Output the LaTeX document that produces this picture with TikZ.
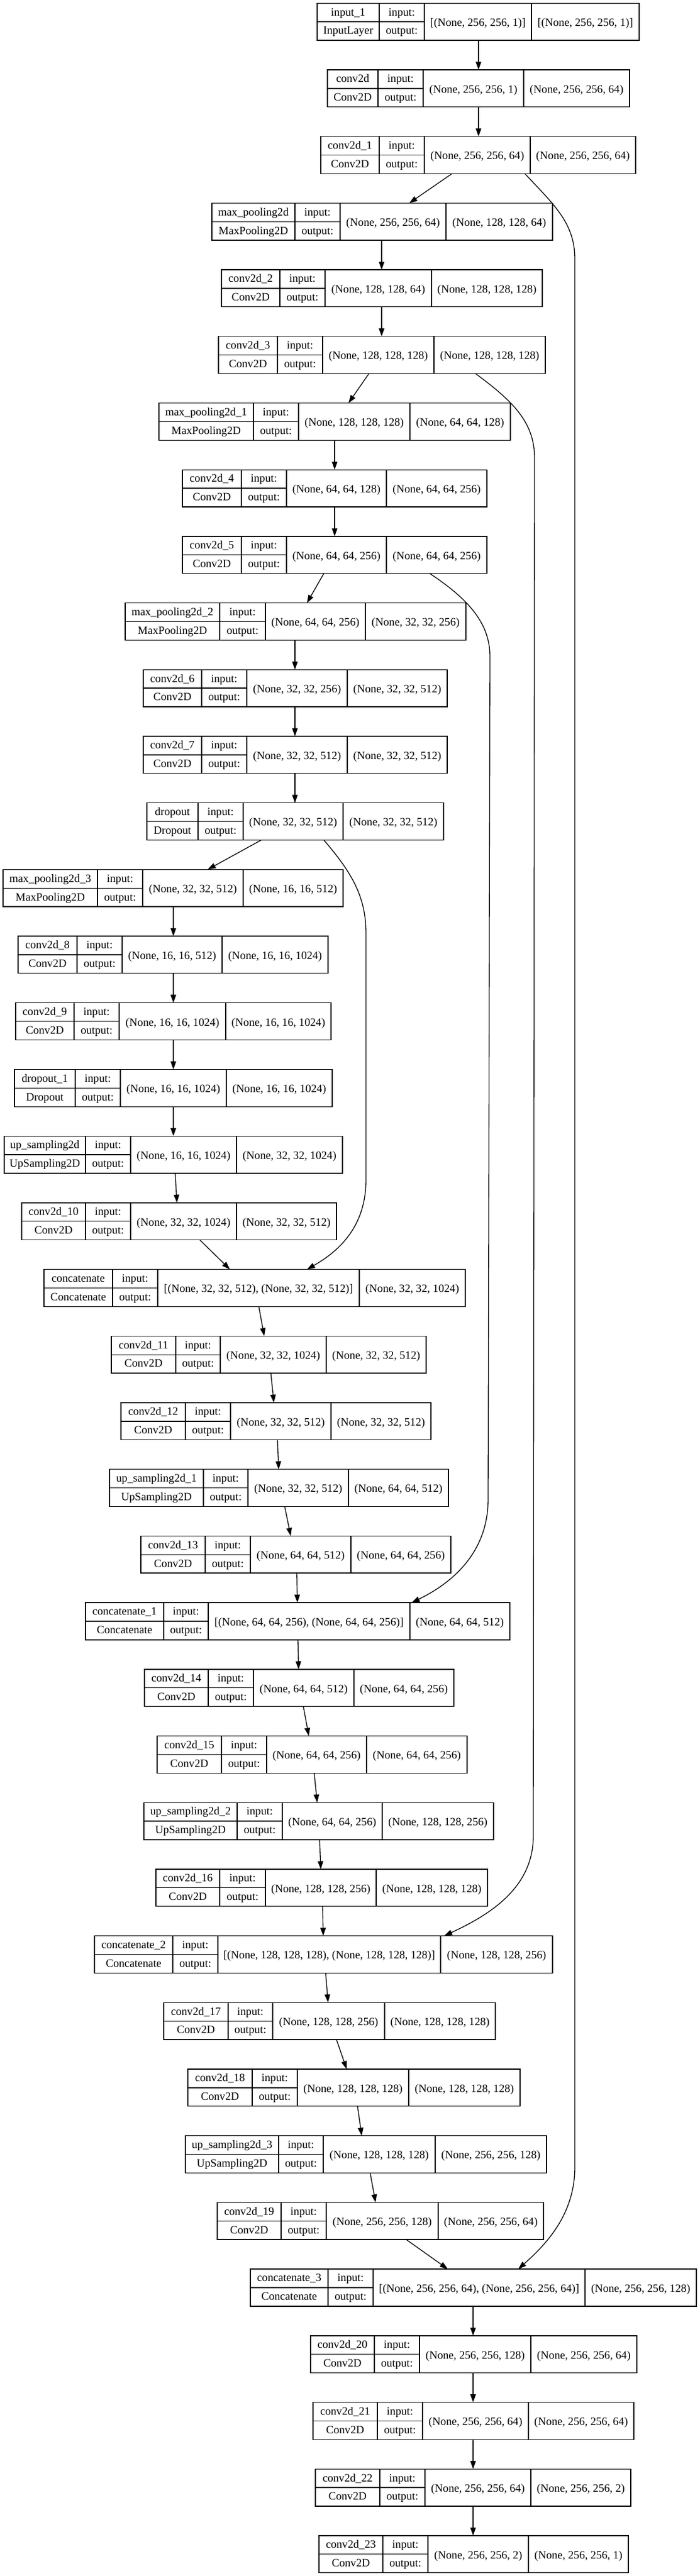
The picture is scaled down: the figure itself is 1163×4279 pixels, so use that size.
\documentclass[tikz,border=0pt]{standalone}
\usepackage{fontspec}
\setmainfont{Liberation Serif}
\usetikzlibrary{arrows.meta}

\def\kgetcols#1,#2,#3,#4,#5\relax{\def\kxA{#1}\def\kxB{#2}\def\kxC{#3}\def\kxD{#4}\def\kxE{#5}}
\newcommand{\kerasnode}[7]{%
  \kgetcols#3\relax
  \pgfmathsetmacro\kyt{5.3+#2*110.7}%
  \pgfmathsetmacro\kym{\kyt+30.85}%
  \pgfmathsetmacro\kyb{\kyt+61.7}%
  \pgfmathsetmacro\kyu{\kyt+15.425}%
  \pgfmathsetmacro\kyl{\kyt+46.275}%
  \pgfmathsetmacro\kw{(\kxE-\kxA)*0.75}%
  \node[kbox, minimum width=\kw pt] (#1) at ({(\kxA+\kxE)/2},\kym) {};
  \draw[kline] (\kxA,\kym) -- (\kxC,\kym)
    (\kxB,\kyt) -- (\kxB,\kyb) (\kxC,\kyt) -- (\kxC,\kyb) (\kxD,\kyt) -- (\kxD,\kyb);
  \node[ktext] (#1-name) at ({(\kxA+\kxB)/2},\kyu) {#4};
  \node[ktext] (#1-cls) at ({(\kxA+\kxB)/2},\kyl) {#5};
  \node[ktext] (#1-inlbl) at ({(\kxB+\kxC)/2},\kyu) {input:};
  \node[ktext] (#1-outlbl) at ({(\kxB+\kxC)/2},\kyl) {output:};
  \node[kshape] (#1-in) at ({(\kxC+\kxD)/2},\kym) {#6};
  \node[kshape] (#1-out) at ({(\kxD+\kxE)/2},\kym) {#7};
}

\begin{document}
\begin{tikzpicture}[x=0.75pt,y=-0.75pt,
    kbox/.style={draw, line width=1pt, inner sep=0pt, outer sep=0pt, minimum height=46.275pt},
    kline/.style={line width=1pt},
    ktext/.style={inner sep=0pt, font=\fontsize{14pt}{16pt}\selectfont, text height=11pt, text depth=3pt},
    kshape/.style={ktext, text height=13pt, text depth=2pt},
    flow/.style={line width=1pt, -{Triangle[length=10pt,width=6.8pt]}}]
    \fill[white] (0,0) rectangle (1163,4279);
    \useasboundingbox (0,0) rectangle (1163,4279);

    \kerasnode{input1}{0}{527,630,705,883,1062}{input\_1}{InputLayer}{[(None, 256, 256, 1)]}{[(None, 256, 256, 1)]}
    \kerasnode{conv0}{1}{544,628,703,870,1046}{conv2d}{Conv2D}{(None, 256, 256, 1)}{(None, 256, 256, 64)}
    \kerasnode{conv1}{2}{533,630,705,881,1056}{conv2d\_1}{Conv2D}{(None, 256, 256, 64)}{(None, 256, 256, 64)}
    \kerasnode{pool0}{3}{352,490,565,741,918}{max\_pooling2d}{MaxPooling2D}{(None, 256, 256, 64)}{(None, 128, 128, 64)}
    \kerasnode{conv2}{4}{368,465,540,717,901}{conv2d\_2}{Conv2D}{(None, 128, 128, 64)}{(None, 128, 128, 128)}
    \kerasnode{conv3}{5}{363,461,536,721,906}{conv2d\_3}{Conv2D}{(None, 128, 128, 128)}{(None, 128, 128, 128)}
    \kerasnode{pool1}{6}{264,421,496,681,848}{max\_pooling2d\_1}{MaxPooling2D}{(None, 128, 128, 128)}{(None, 64, 64, 128)}
    \kerasnode{conv4}{7}{303,401,476,642,809}{conv2d\_4}{Conv2D}{(None, 64, 64, 128)}{(None, 64, 64, 256)}
    \kerasnode{conv5}{8}{303,401,476,642,809}{conv2d\_5}{Conv2D}{(None, 64, 64, 256)}{(None, 64, 64, 256)}
    \kerasnode{pool2}{9}{208,365,441,607,774}{max\_pooling2d\_2}{MaxPooling2D}{(None, 64, 64, 256)}{(None, 32, 32, 256)}
    \kerasnode{conv6}{10}{238,335,410,577,743}{conv2d\_6}{Conv2D}{(None, 32, 32, 256)}{(None, 32, 32, 512)}
    \kerasnode{conv7}{11}{238,335,410,577,743}{conv2d\_7}{Conv2D}{(None, 32, 32, 512)}{(None, 32, 32, 512)}
    \kerasnode{drop0}{12}{244,329,404,570,737}{dropout}{Dropout}{(None, 32, 32, 512)}{(None, 32, 32, 512)}
    \kerasnode{pool3}{13}{5,162,237,404,570}{max\_pooling2d\_3}{MaxPooling2D}{(None, 32, 32, 512)}{(None, 16, 16, 512)}
    \kerasnode{conv8}{14}{30,128,203,369,545}{conv2d\_8}{Conv2D}{(None, 16, 16, 512)}{(None, 16, 16, 1024)}
    \kerasnode{conv9}{15}{26,123,198,375,550}{conv2d\_9}{Conv2D}{(None, 16, 16, 1024)}{(None, 16, 16, 1024)}
    \kerasnode{drop1}{16}{24,125,200,376,552}{dropout\_1}{Dropout}{(None, 16, 16, 1024)}{(None, 16, 16, 1024)}
    \kerasnode{up0}{17}{7,142,217,393,569}{up\_sampling2d}{UpSampling2D}{(None, 16, 16, 1024)}{(None, 32, 32, 1024)}
    \kerasnode{conv10}{18}{36,142,217,393,559}{conv2d\_10}{Conv2D}{(None, 32, 32, 1024)}{(None, 32, 32, 512)}
    \kerasnode{cat0}{19}{73,187,262,597,773}{concatenate}{Concatenate}{[(None, 32, 32, 512), (None, 32, 32, 512)]}{(None, 32, 32, 1024)}
    \kerasnode{conv11}{20}{185,292,366,542,708}{conv2d\_11}{Conv2D}{(None, 32, 32, 1024)}{(None, 32, 32, 512)}
    \kerasnode{conv12}{21}{201,308,383,550,716}{conv2d\_12}{Conv2D}{(None, 32, 32, 512)}{(None, 32, 32, 512)}
    \kerasnode{up1}{22}{182,338,412,579,745}{up\_sampling2d\_1}{UpSampling2D}{(None, 32, 32, 512)}{(None, 64, 64, 512)}
    \kerasnode{conv13}{23}{234,341,416,583,749}{conv2d\_13}{Conv2D}{(None, 64, 64, 512)}{(None, 64, 64, 256)}
    \kerasnode{cat1}{24}{142,272,346,681,847}{concatenate\_1}{Concatenate}{[(None, 64, 64, 256), (None, 64, 64, 256)]}{(None, 64, 64, 512)}
    \kerasnode{conv14}{25}{240,346,421,588,754}{conv2d\_14}{Conv2D}{(None, 64, 64, 512)}{(None, 64, 64, 256)}
    \kerasnode{conv15}{26}{261,368,443,609,776}{conv2d\_15}{Conv2D}{(None, 64, 64, 256)}{(None, 64, 64, 256)}
    \kerasnode{up2}{27}{239,394,469,635,820}{up\_sampling2d\_2}{UpSampling2D}{(None, 64, 64, 256)}{(None, 128, 128, 256)}
    \kerasnode{conv16}{28}{259,365,441,625,810}{conv2d\_16}{Conv2D}{(None, 128, 128, 256)}{(None, 128, 128, 128)}
    \kerasnode{cat2}{29}{157,287,362,732,918}{concatenate\_2}{Concatenate}{[(None, 128, 128, 128), (None, 128, 128, 128)]}{(None, 128, 128, 256)}
    \kerasnode{conv17}{30}{272,379,453,639,823}{conv2d\_17}{Conv2D}{(None, 128, 128, 256)}{(None, 128, 128, 128)}
    \kerasnode{conv18}{31}{312,419,494,679,864}{conv2d\_18}{Conv2D}{(None, 128, 128, 128)}{(None, 128, 128, 128)}
    \kerasnode{up3}{32}{308,463,537,723,908}{up\_sampling2d\_3}{UpSampling2D}{(None, 128, 128, 128)}{(None, 256, 256, 128)}
    \kerasnode{conv19}{33}{361,467,542,728,903}{conv2d\_19}{Conv2D}{(None, 256, 256, 128)}{(None, 256, 256, 64)}
    \kerasnode{cat3}{34}{416,545,620,972,1157}{concatenate\_3}{Concatenate}{[(None, 256, 256, 64), (None, 256, 256, 64)]}{(None, 256, 256, 128)}
    \kerasnode{conv20}{35}{516,622,697,882,1058}{conv2d\_20}{Conv2D}{(None, 256, 256, 128)}{(None, 256, 256, 64)}
    \kerasnode{conv21}{36}{520,627,702,878,1053}{conv2d\_21}{Conv2D}{(None, 256, 256, 64)}{(None, 256, 256, 64)}
    \kerasnode{conv22}{37}{524,631,706,882,1048}{conv2d\_22}{Conv2D}{(None, 256, 256, 64)}{(None, 256, 256, 2)}
    \kerasnode{conv23}{38}{530,636,711,878,1044}{conv2d\_23}{Conv2D}{(None, 256, 256, 2)}{(None, 256, 256, 1)}

    \draw[flow] (input1.south -| 795,0) -- (conv0.north -| 795,0);
    \draw[flow] (conv0.south -| 795,0) -- (conv1.north -| 795,0);
    \draw[flow] (conv1.south -| 751,0) -- (pool0.north -| 680,0);
    \draw[flow] (pool0.south -| 634,0) -- (conv2.north -| 634,0);
    \draw[flow] (conv2.south -| 634,0) -- (conv3.north -| 634,0);
    \draw[flow] (conv3.south -| 613,0) -- (pool1.north -| 579,0);
    \draw[flow] (pool1.south -| 556,0) -- (conv4.north -| 556,0);
    \draw[flow] (conv4.south -| 556,0) -- (conv5.north -| 556,0);
    \draw[flow] (conv5.south -| 538,0) -- (pool2.north -| 510,0);
    \draw[flow] (pool2.south -| 490,0) -- (conv6.north -| 490,0);
    \draw[flow] (conv6.south -| 490,0) -- (conv7.north -| 490,0);
    \draw[flow] (conv7.south -| 490,0) -- (drop0.north -| 490,0);
    \draw[flow] (drop0.south -| 434,0) -- (pool3.north -| 345,0);
    \draw[flow] (pool3.south -| 288,0) -- (conv8.north -| 288,0);
    \draw[flow] (conv8.south -| 288,0) -- (conv9.north -| 288,0);
    \draw[flow] (conv9.south -| 288,0) -- (drop1.north -| 288,0);
    \draw[flow] (drop1.south -| 288,0) -- (up0.north -| 288,0);
    \draw[flow] (up0.south -| 291,0) -- (conv10.north -| 294,0);
    \draw[flow] (conv10.south -| 332,0) -- (cat0.north -| 382,0);
    \draw[flow] (cat0.south -| 430,0) -- (conv11.north -| 439,0);
    \draw[flow] (conv11.south -| 450,0) -- (conv12.north -| 455,0);
    \draw[flow] (conv12.south -| 461,0) -- (up1.north -| 463,0);
    \draw[flow] (up1.south -| 473,0) -- (conv13.north -| 483,0);
    \draw[flow] (conv13.south -| 493,0) -- (cat1.north -| 494,0);
    \draw[flow] (cat1.south -| 495,0) -- (conv14.north -| 496,0);
    \draw[flow] (conv14.south -| 504,0) -- (conv15.north -| 513,0);
    \draw[flow] (conv15.south -| 522,0) -- (up2.north -| 527,0);
    \draw[flow] (up2.south -| 531,0) -- (conv16.north -| 533,0);
    \draw[flow] (conv16.south -| 536,0) -- (cat2.north -| 537,0);
    \draw[flow] (cat2.south -| 541,0) -- (conv17.north -| 545,0);
    \draw[flow] (conv17.south -| 559,0) -- (conv18.north -| 576,0);
    \draw[flow] (conv18.south -| 594,0) -- (up3.north -| 601,0);
    \draw[flow] (up3.south -| 615,0) -- (conv19.north -| 624,0);
    \draw[flow] (conv19.south -| 675,0) -- (cat3.north -| 744,0);
    \draw[flow] (cat3.south -| 786,0) -- (conv20.north -| 786,0);
    \draw[flow] (conv20.south -| 786,0) -- (conv21.north -| 786,0);
    \draw[flow] (conv21.south -| 786,0) -- (conv22.north -| 786,0);
    \draw[flow] (conv22.south -| 786,0) -- (conv23.north -| 786,0);

    \draw[flow] (conv1.south -| 872,0) .. controls (920,340) and (955,370) .. (955,430)
        -- (955,3600) .. controls (955,3680) and (905,3730) .. (cat3.north -| 861,0);
    \draw[flow] (conv3.south -| 790,0) .. controls (850,665) and (888,700) .. (888,760)
        -- (886,3050) .. controls (886,3135) and (815,3180) .. (cat2.north -| 738,0);
    \draw[flow] (conv5.south -| 714,0) .. controls (770,990) and (814,1030) .. (814,1090)
        -- (811,2490) .. controls (811,2580) and (750,2630) .. (cat1.north -| 684,0);
    \draw[flow] (drop0.south -| 538,0) .. controls (585,1450) and (608,1490) .. (608,1550)
        -- (608,1960) .. controls (608,2040) and (560,2080) .. (cat0.north -| 510,0);
\end{tikzpicture}
\end{document}
